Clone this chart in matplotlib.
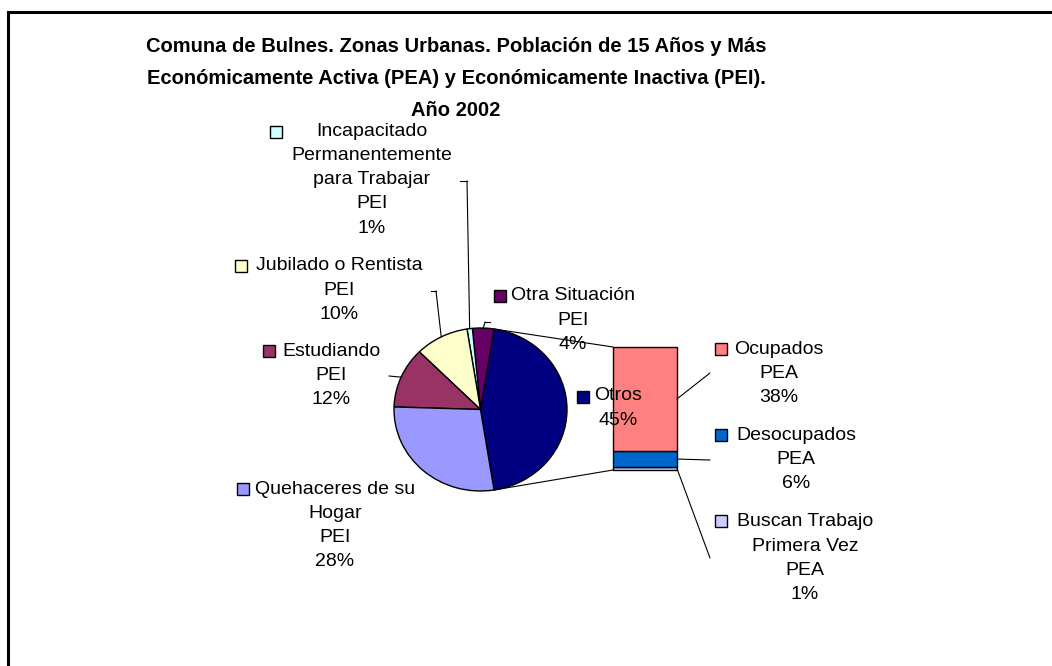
import numpy as np
import matplotlib
matplotlib.use('Agg')
import matplotlib.pyplot as plt
from matplotlib.patches import ConnectionPatch, Rectangle

plt.rcParams['font.family'] = ['Liberation Sans', 'DejaVu Sans']

# pie slices, counterclockwise from the "Otros" slice (which is split into the bar)
pie_lines = [['Otros'], ['Otra Situación'],
             ['Incapacitado', 'Permanentemente', 'para Trabajar'],
             ['Jubilado o Rentista'], ['Estudiando'], ['Quehaceres de su', 'Hogar']]
pie_group = ['', 'PEI', 'PEI', 'PEI', 'PEI', 'PEI']
pie_values = [45, 4, 1, 10, 12, 28]
pie_colors = ['#000080', '#660066', '#CCFFFF', '#FFFFCC', '#993366', '#9999FF']

# bar segments, bottom to top
bar_lines = [['Buscan Trabajo', 'Primera Vez'], ['Desocupados'], ['Ocupados']]
bar_group = ['PEA', 'PEA', 'PEA']
bar_values = [1, 6, 38]
bar_colors = ['#CCCCFF', '#0066CC', '#FF8080']

title_lines = ['Comuna de Bulnes. Zonas Urbanas. Población de 15 Años y Más',
               'Económicamente Activa (PEA) y Económicamente Inactiva (PEI).',
               'Año 2002']

W, H = 1052, 666
fig = plt.figure(figsize=(W / 100, H / 100), dpi=100)

# pie (slightly elliptical like the original)
px0, py0, px1, py1 = 394, 328, 567, 491
ax_pie = fig.add_axes([px0 / W, 1 - py1 / H, (px1 - px0) / W, (py1 - py0) / H])
start = -81
wedges, _ = ax_pie.pie(pie_values, colors=pie_colors, startangle=start, counterclock=True,
                       wedgeprops=dict(edgecolor='black', linewidth=1.0))
for w in wedges:
    w.set_clip_on(False)
ax_pie.set_aspect('auto')
ax_pie.set_xlim(-1, 1)
ax_pie.set_ylim(-1, 1)
ax_pie.axis('off')

# bar of the split slice
bx0, by0, bx1, by1 = 613, 347, 677, 470
ax_bar = fig.add_axes([bx0 / W, 1 - by1 / H, (bx1 - bx0) / W, (by1 - by0) / H])
bottoms = np.concatenate([[0], np.cumsum(bar_values)[:-1]])
bars = ax_bar.bar(0, bar_values, bottom=bottoms, width=1, color=bar_colors,
                  edgecolor='black', linewidth=1.0)
for b in bars:
    b.set_clip_on(False)
ax_bar.set_xlim(-0.5, 0.5)
ax_bar.set_ylim(0, sum(bar_values))
ax_bar.axis('off')

# overlay in pixel coordinates for text, leaders and frame
ax = fig.add_axes([0, 0, 1, 1])
ax.set_xlim(0, W)
ax.set_ylim(H, 0)
ax.axis('off')

# connector lines pie -> bar
total = sum(pie_values)
a_top = np.radians(start + 360 * pie_values[0] / total)
a_bot = np.radians(start)
for ang, ytop in [(a_top, sum(bar_values)), (a_bot, 0)]:
    cp = ConnectionPatch(xyA=(np.cos(ang), np.sin(ang)), coordsA=ax_pie.transData,
                         xyB=(-0.5, ytop), coordsB=ax_bar.transData,
                         color='black', lw=0.8)
    fig.add_artist(cp)

# label layout (pixels): text center x, first line y, key center
pie_pos = [(618, 396), (573, 296), (372, 131), (339, 266), (331, 351), (335, 489)]
pie_key = [(583, 397), (500, 296), (276, 132), (241, 266), (269, 351), (243, 489)]
pie_lead = [None, [(485, 322), (490, 322)], [(467, 181), (460, 181)],
            [(436, 291), (431, 291)], [(389, 376)], None]
bar_pos = [(805, 522), (796, 435), (779, 349)]
bar_key = [(721, 521), (721, 435), (721, 349)]
bar_lead = [(710, 558), (710, 460), (710, 373)]

step = 24.3
fs = 14


def draw_label(pos, key, lines, color):
    x, y = pos
    for i, s in enumerate(lines):
        ax.text(x, y + i * step, s, ha='center', va='center', fontsize=fs, color='black')
    ax.add_patch(Rectangle((key[0] - 6, key[1] - 6), 12, 12, facecolor=color,
                           edgecolor='black', linewidth=1.0))


for i, v in enumerate(pie_values):
    lines = pie_lines[i] + ([pie_group[i]] if pie_group[i] else []) + [f'{v}%']
    draw_label(pie_pos[i], pie_key[i], lines, pie_colors[i])
    if pie_lead[i]:
        lo = sum(pie_values[:i])
        mid = np.radians(start + 360 * (lo + v / 2) / total)
        first = pie_lead[i][0]
        fig.add_artist(ConnectionPatch(xyA=(np.cos(mid), np.sin(mid)), coordsA=ax_pie.transData,
                                       xyB=first, coordsB=ax.transData, color='black', lw=0.8))
        if len(pie_lead[i]) > 1:
            xs, ys = zip(*pie_lead[i])
            ax.plot(xs, ys, color='black', lw=0.8)

for i, v in enumerate(bar_values):
    lines = bar_lines[i] + [bar_group[i], f'{v}%']
    draw_label(bar_pos[i], bar_key[i], lines, bar_colors[i])
    mid = bottoms[i] + v / 2
    fig.add_artist(ConnectionPatch(xyA=(0.5, mid), coordsA=ax_bar.transData,
                                   xyB=bar_lead[i], coordsB=ax.transData, color='black', lw=0.8))

# title
for i, s in enumerate(title_lines):
    ax.text(456, 47 + i * 32, s, ha='center', va='center', fontsize=14.5, fontweight='bold')

# chart frame (only left and top edges visible)
ax.plot([8, 8], [H, 12], color='black', lw=2.2, solid_capstyle='projecting')
ax.plot([8, W], [12, 12], color='black', lw=2.2, solid_capstyle='projecting')

fig.savefig('out.png', dpi=100)
